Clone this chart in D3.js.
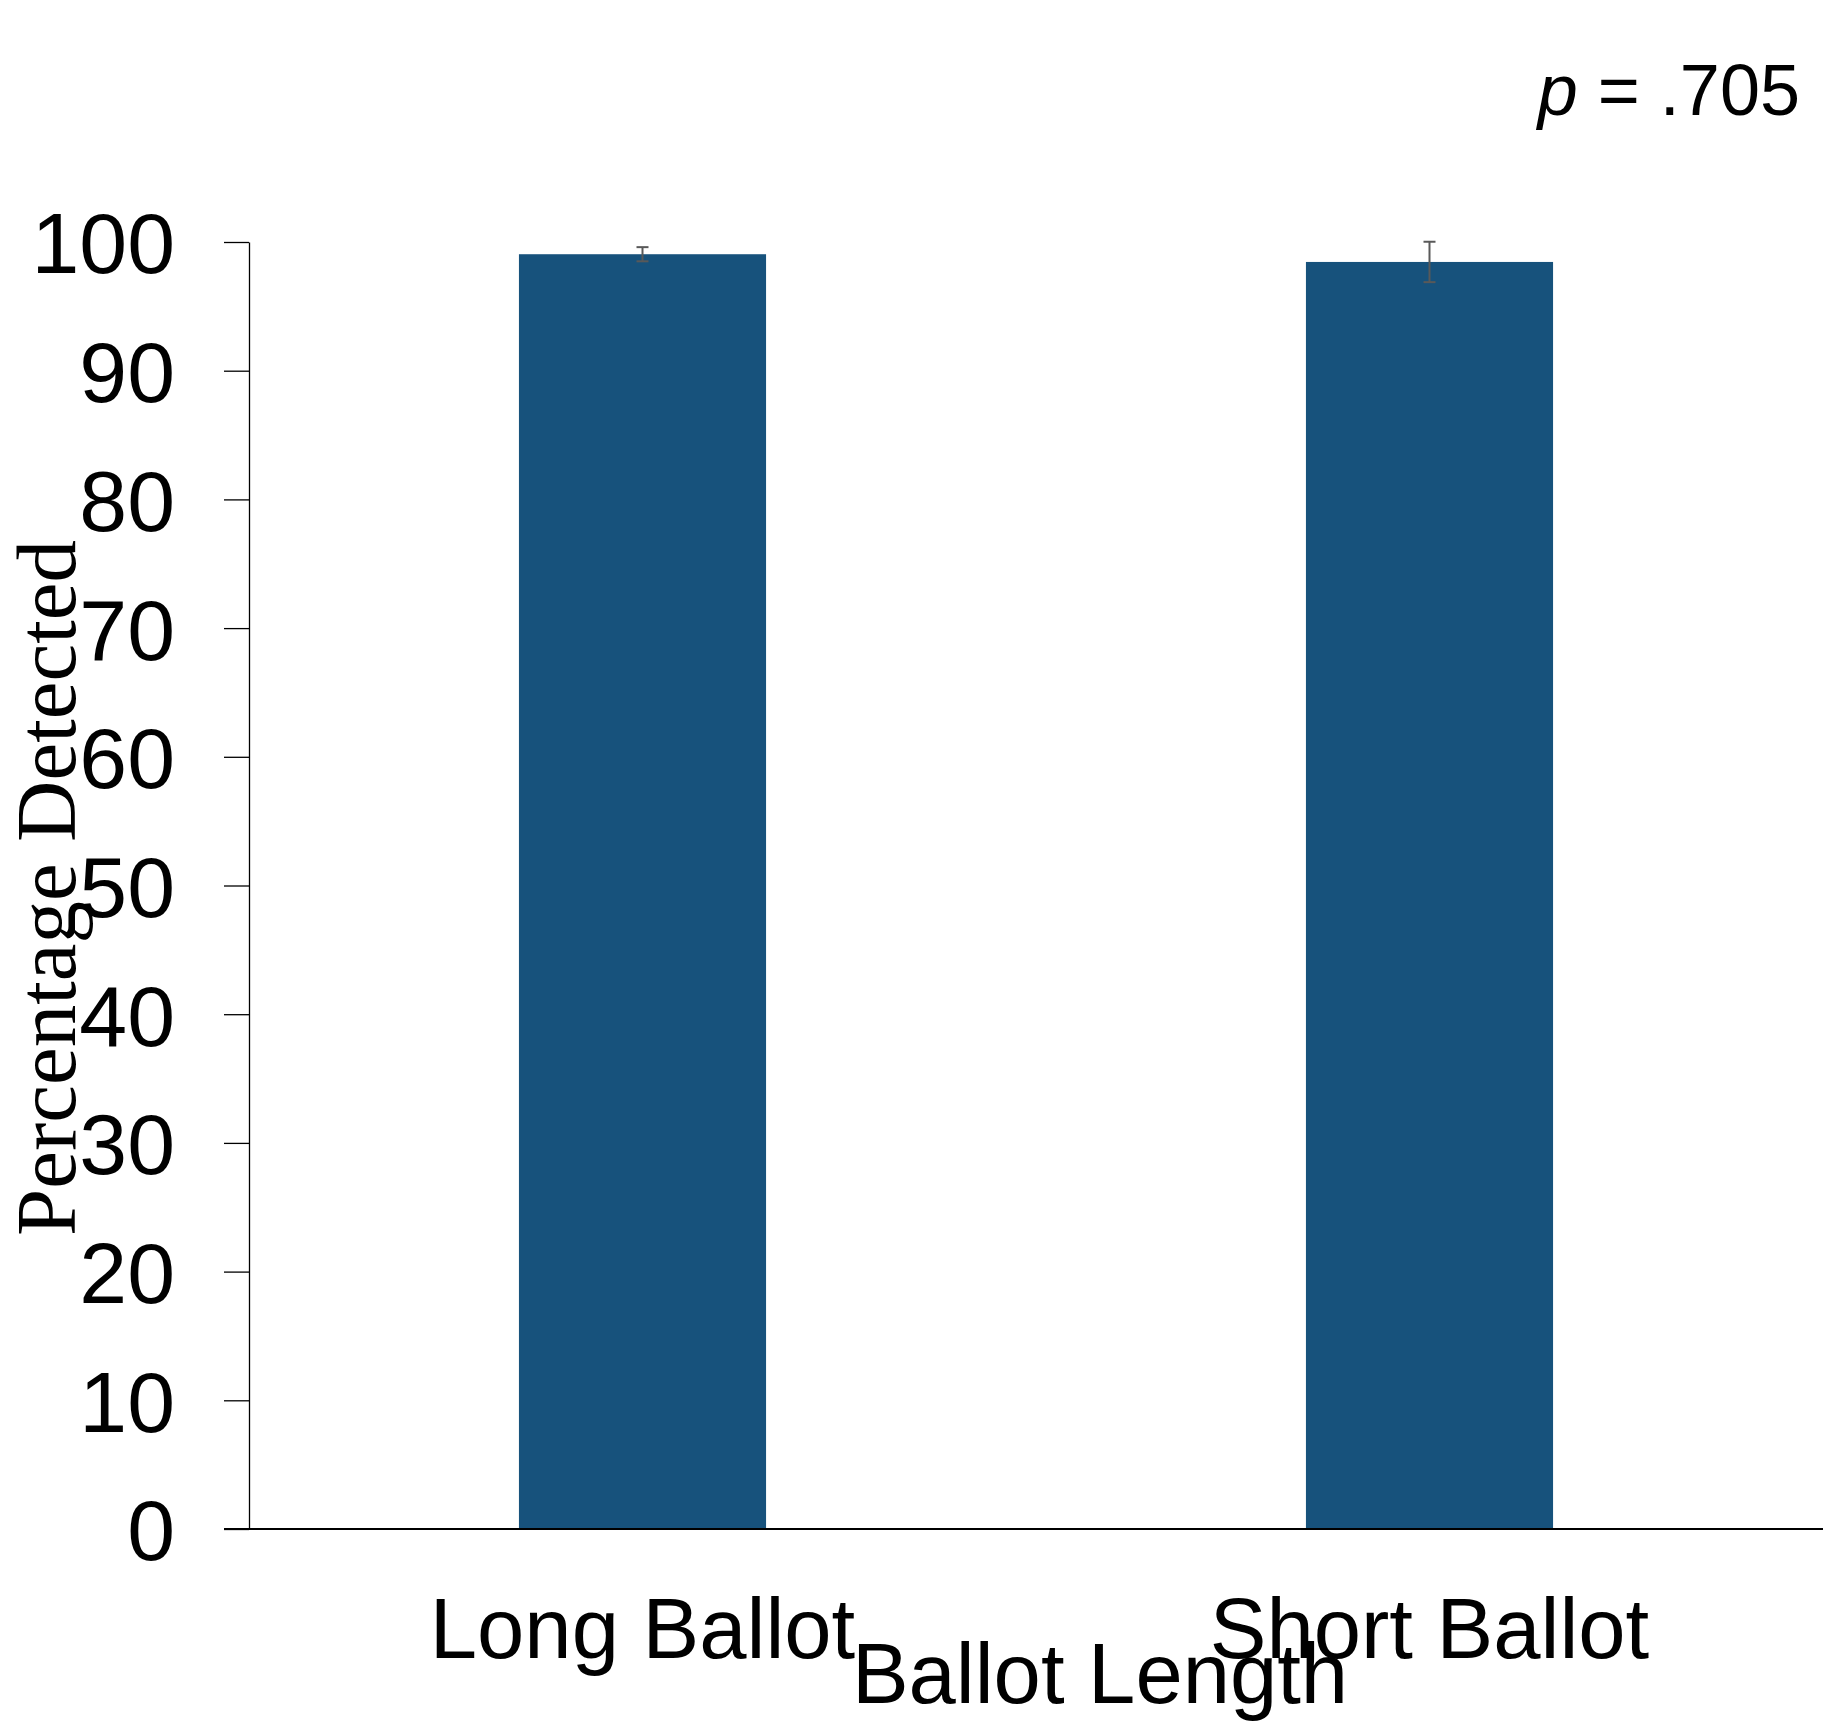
<!DOCTYPE html>
<html>
<head>
<meta charset="utf-8">
<script src="https://cdn.jsdelivr.net/npm/d3@7"></script>
<style>
  html, body { margin: 0; padding: 0; background: #fff; }
  svg { display: block; }
</style>
</head>
<body>
<script>
// Detection rate by ballot length, with standard-error bars
const categories = ["Long Ballot", "Short Ballot"];
const values = [99.05, 98.45];
const errors = [0.55, 1.57];
const yTicks = [0, 10, 20, 30, 40, 50, 60, 70, 80, 90, 100];
const pLabel = ".705";

const W = 1841, H = 1729;
const plot = { left: 249, right: 1823, top: 242, bottom: 1529 };

const svg = d3.select("body").append("svg")
  .attr("width", W).attr("height", H);

const x = d3.scaleBand().domain(categories)
  .range([plot.left, plot.right]).padding(0);
const y = d3.scaleLinear().domain([0, 100])
  .range([plot.bottom, plot.top]);

const barW = x.bandwidth() * 0.314;
const sans = "'Liberation Sans', Arial, sans-serif";

// bars
svg.append("g").selectAll("rect").data(categories).join("rect")
  .attr("x", (d) => x(d) + x.bandwidth() / 2 - barW / 2)
  .attr("width", barW)
  .attr("y", (d, i) => y(values[i]))
  .attr("height", (d, i) => y(0) - y(values[i]))
  .attr("fill", "#17527c");

// error bars
const eb = svg.append("g").attr("stroke", "#595959").attr("stroke-width", 2).attr("fill", "none");
categories.forEach((c, i) => {
  const cx = x(c) + x.bandwidth() / 2;
  const hi = y(values[i] + errors[i]), lo = y(values[i] - errors[i]);
  eb.append("line").attr("x1", cx).attr("x2", cx).attr("y1", hi).attr("y2", lo);
  eb.append("line").attr("x1", cx - 6).attr("x2", cx + 6).attr("y1", hi).attr("y2", hi);
  eb.append("line").attr("x1", cx - 6).attr("x2", cx + 6).attr("y1", lo).attr("y2", lo);
});

// y axis
const yAxis = svg.append("g")
  .attr("transform", `translate(${plot.left},0)`)
  .call(d3.axisLeft(y).tickValues(yTicks).tickSize(25).tickPadding(49).tickSizeOuter(0));
yAxis.select(".domain").attr("stroke", "#000").attr("stroke-width", 1.3);
yAxis.selectAll(".tick line").attr("stroke", "#000").attr("stroke-width", 1.3);
yAxis.selectAll(".tick text")
  .attr("font-family", sans).attr("font-size", 86).attr("fill", "#000")
  .attr("dy", "0.36em");

// x axis baseline
svg.append("line")
  .attr("x1", plot.left - 25).attr("x2", plot.right)
  .attr("y1", y(0)).attr("y2", y(0))
  .attr("stroke", "#000").attr("stroke-width", 2);

// category labels
svg.append("g").selectAll("text").data(categories).join("text")
  .attr("x", (d) => x(d) + x.bandwidth() / 2)
  .attr("y", 1658)
  .attr("text-anchor", "middle")
  .attr("font-family", sans).attr("font-size", 85)
  .text((d) => d);

// axis titles
svg.append("text")
  .attr("x", 1100).attr("y", 1703)
  .attr("text-anchor", "middle")
  .attr("font-family", sans).attr("font-size", 85)
  .text("Ballot Length");

svg.append("text")
  .attr("transform", "translate(75,888) rotate(-90)")
  .attr("text-anchor", "middle")
  .attr("font-family", "'Liberation Serif', 'Times New Roman', serif").attr("font-size", 85)
  .text("Percentage Detected");

// significance annotation
const pt = svg.append("text")
  .attr("x", 1800).attr("y", 115)
  .attr("text-anchor", "end")
  .attr("font-family", sans).attr("font-size", 72);
pt.append("tspan").attr("font-style", "italic").text("p");
pt.append("tspan").text(" = " + pLabel);
</script>
</body>
</html>
